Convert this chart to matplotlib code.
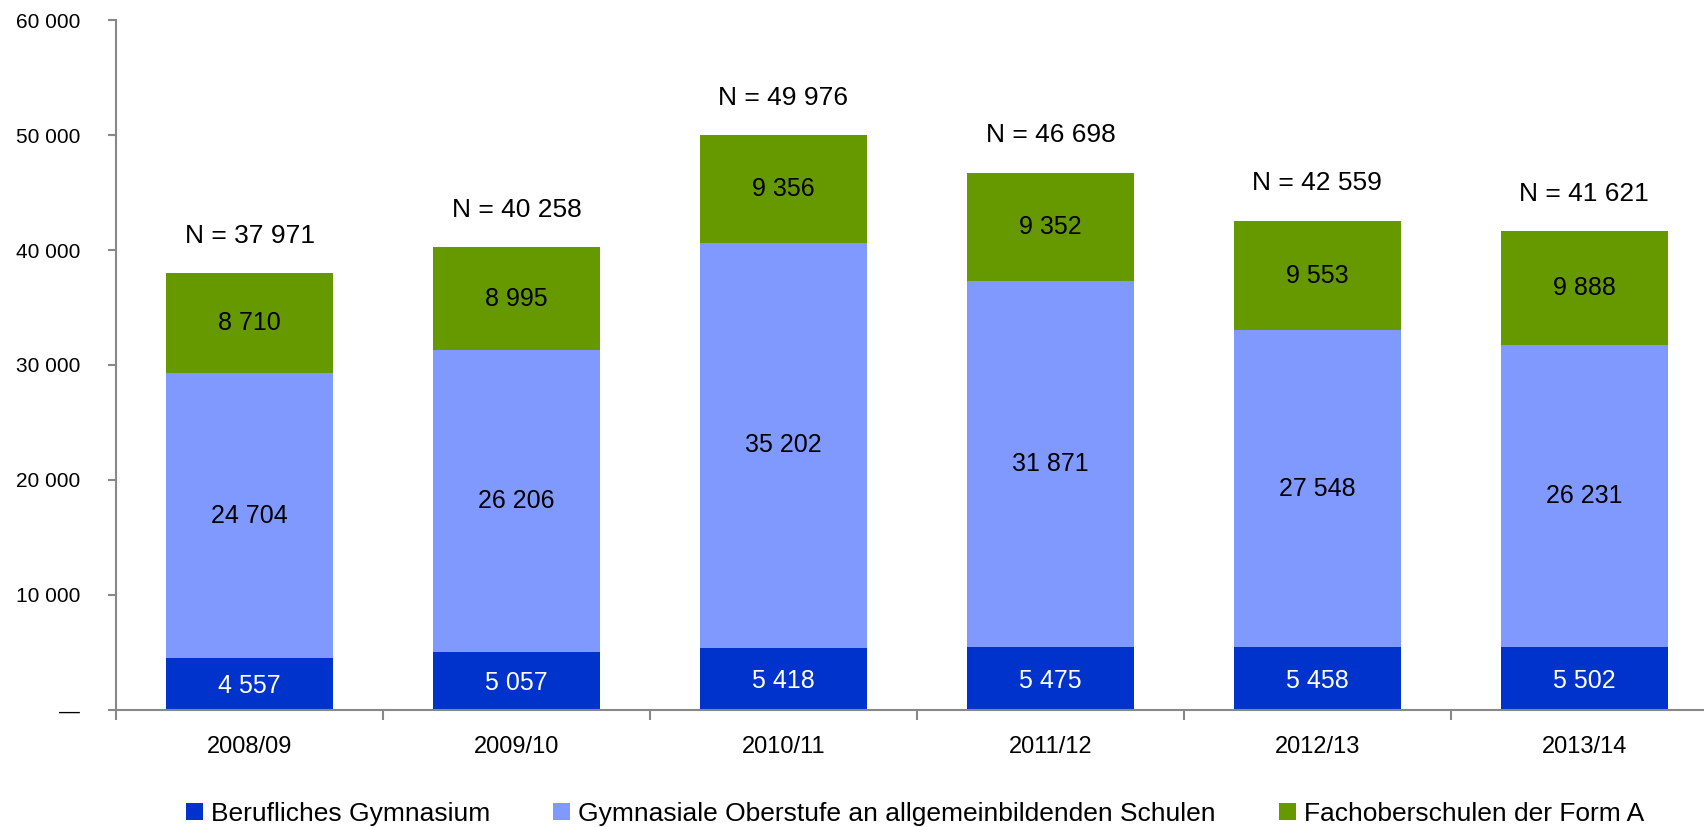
import numpy as np
import matplotlib
matplotlib.use('Agg')
import matplotlib.pyplot as plt
from matplotlib.patches import Patch

plt.rcParams['font.family'] = ['Liberation Sans', 'DejaVu Sans']

years = ['2008/09', '2009/10', '2010/11', '2011/12', '2012/13', '2013/14']
berufl = [4557, 5057, 5418, 5475, 5458, 5502]
gymn = [24704, 26206, 35202, 31871, 27548, 26231]
fos = [8710, 8995, 9356, 9352, 9553, 9888]
labels = ['Berufliches Gymnasium',
          'Gymnasiale Oberstufe an allgemeinbildenden Schulen',
          'Fachoberschulen der Form A']
colors = ['#0033CC', '#8099FF', '#669900']

def fmt(v):
    return f'{v:,}'.replace(',', ' ')

fig = plt.figure(figsize=(17.04, 8.27), dpi=100)
ax = fig.add_axes([0.0681, 0.1415, 0.940, 0.8343])

x = np.arange(len(years))
w = 0.625
b1 = np.array(berufl)
b2 = b1 + np.array(gymn)
tot = b2 + np.array(fos)

# gestapelte Balken
ax.bar(x, berufl, w, color=colors[0], linewidth=0)
ax.bar(x, gymn, w, bottom=b1, color=colors[1], linewidth=0)
ax.bar(x, fos, w, bottom=b2, color=colors[2], linewidth=0)

for i in range(len(years)):
    ax.text(x[i], berufl[i] / 2 - 200, fmt(berufl[i]), ha='center', va='center',
            fontsize=18, color='white')
    ax.text(x[i], b1[i] + gymn[i] / 2, fmt(gymn[i]), ha='center', va='center',
            fontsize=18, color='black')
    ax.text(x[i], b2[i] + fos[i] / 2, fmt(fos[i]), ha='center', va='center',
            fontsize=18, color='black')
    ax.annotate('N = ' + fmt(int(tot[i])), (x[i], tot[i]), xytext=(0, 27),
                textcoords='offset points', ha='center', va='center', fontsize=19)

ax.set_xlim(-0.5, len(years) - 0.5)
ax.set_ylim(0, 60000)
yt = np.arange(0, 60001, 10000)
ax.set_yticks(yt)
ax.set_yticklabels(['—'] + [fmt(int(v)) for v in yt[1:]])
ax.set_xticks(x)
ax.set_xticklabels(years)
ax.set_xticks(np.arange(-0.5, len(years)), minor=True)

for s in ['top', 'right']:
    ax.spines[s].set_visible(False)
for s in ['left', 'bottom']:
    ax.spines[s].set_color('#888888')
    ax.spines[s].set_linewidth(1.5)

ax.tick_params(axis='y', length=6, width=1.5, color='#888888', pad=20, labelsize=15)
ax.tick_params(axis='x', which='major', length=0, pad=19, labelsize=17)
ax.tick_params(axis='x', which='minor', length=7, width=1.5, color='#888888')

handles = [Patch(facecolor=c, edgecolor='none') for c in colors]
fig.legend(handles, labels, loc='center', bbox_to_anchor=(0.537, 0.016), ncol=3,
           frameon=False, fontsize=19, handlelength=0.65, handleheight=0.65,
           handletextpad=0.3, columnspacing=2.4)

fig.savefig('out.png', dpi=100)
